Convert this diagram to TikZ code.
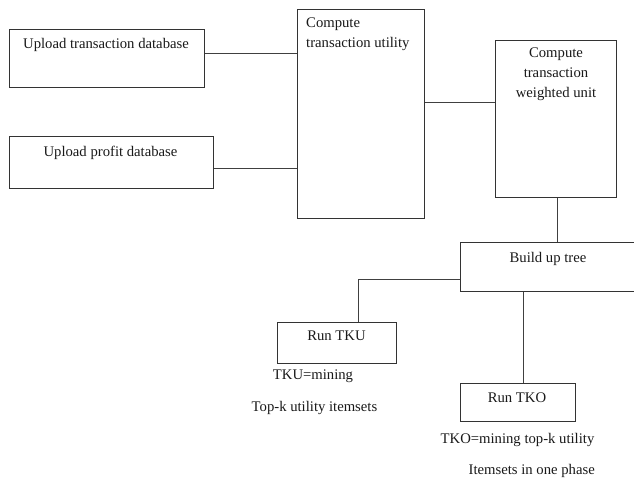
\documentclass[tikz,border=0pt]{standalone}
\usepackage{fontspec}
\setmainfont{Liberation Serif}

\begin{document}
\begin{tikzpicture}[x=1pt,y=-1pt,
  box/.style={draw=black!80,line width=0.9pt,rectangle,inner sep=0pt},
  link/.style={draw=black!75,line width=0.9pt},
  txt/.style={font=\fontsize{14.7}{20}\selectfont,inner sep=0pt,text=black!90,yshift=-1.5pt}]
\useasboundingbox (0,0) rectangle (634,478);

% Upload boxes (left)
\node[box,minimum width=195.3pt,minimum height=57.6pt] (updb) at (106.65,58.5) {};
\node[txt] at (106,43) {Upload transaction database};
\node[box,minimum width=204.3pt,minimum height=51.6pt] (profdb) at (111.15,162.5) {};
\node[txt] at (110.5,151) {Upload profit database};

% Utility and weighted unit boxes (top)
\node[box,minimum width=127.4pt,minimum height=209pt] (tu) at (361,113.8) {};
\node[txt,anchor=west,align=left] at (306,32.7) {Compute\\transaction utility};
\node[box,minimum width=121.4pt,minimum height=157.7pt] (twu) at (556,118.85) {};
\node[txt,align=center] at (556,73) {Compute\\transaction\\weighted unit};

% Tree box (runs off the right edge)
\node[box,minimum width=176pt,minimum height=49pt] (tree) at (548,267.2) {};
\node[txt] at (548,257) {Build up tree};

% Run TKU and its note
\node[box,minimum width=119pt,minimum height=41pt] (tku) at (336.5,342.5) {};
\node[txt] at (336.5,334) {Run TKU};
\node[txt] at (313,375) {TKU=mining};
\node[txt] at (314.5,406) {Top-k utility itemsets};

% Run TKO and its note
\node[box,minimum width=115pt,minimum height=37.3pt] (tko) at (517.5,402.35) {};
\node[txt] at (517,396) {Run TKO};
\node[txt] at (517.5,438) {TKO=mining top-k utility};
\node[txt] at (531.7,469) {Itemsets in one phase};

% Connectors
\draw[link] ([yshift=5.2pt]updb.east) -- ([yshift=5.2pt]updb.east -| tu.west);
\draw[link] ([yshift=-5.5pt]profdb.east) -- ([yshift=-5.5pt]profdb.east -| tu.west);
\coordinate (twuin) at ([yshift=16pt]twu.west);
\draw[link] (tu.east |- twuin) -- (twuin);
\coordinate (twuout) at ([xshift=1.5pt]twu.south);
\draw[link] (twuout) -- (twuout |- tree.north);
\coordinate (tkuin) at ([xshift=22pt]tku.north);
\draw[link] ([yshift=-12pt]tree.west) -| (tkuin);
\coordinate (tkoin) at ([xshift=6pt]tko.north);
\draw[link] (tree.south -| tkoin) -- (tkoin);

\end{tikzpicture}
\end{document}
